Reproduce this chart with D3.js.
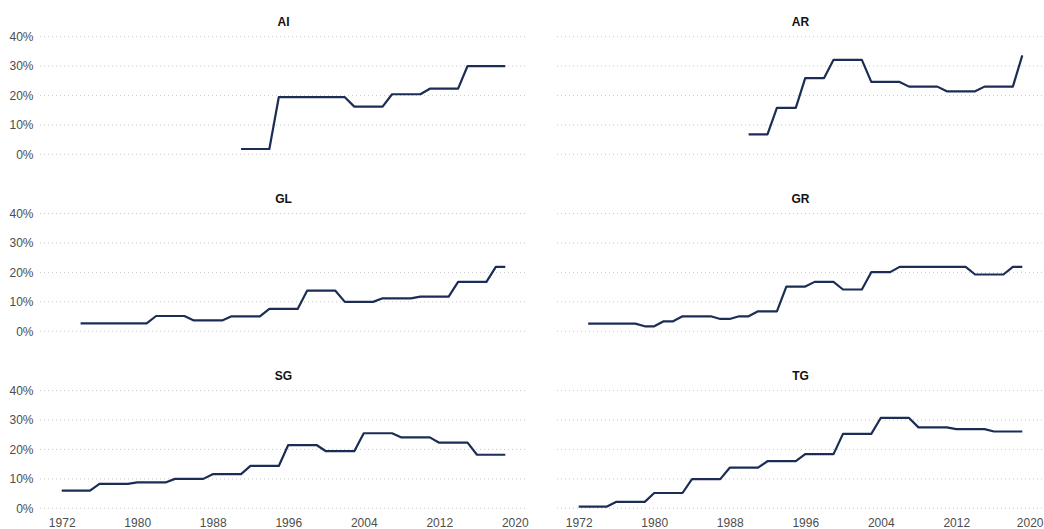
<!DOCTYPE html>
<html>
<head>
<meta charset="utf-8">
<script src="https://cdn.jsdelivr.net/npm/d3@7"></script>
<style>
  body { margin: 0; background: #fff; }
  svg { display: block; font-family: "Liberation Sans", Arial, sans-serif; }
</style>
</head>
<body>
<div id="chart"></div>
<script>
// Share of women per canton (%), one value per year from the start year
const cantons = ["AI", "AR", "GL", "GR", "SG", "TG"];
const startYears = [1991, 1990, 1974, 1973, 1972, 1972];

const aiShare = [1.8, 1.8, 1.8, 1.8,
  19.4, 19.4, 19.4, 19.4, 19.4, 19.4, 19.4, 19.4,
  16.2, 16.2, 16.2, 16.2, 20.4, 20.4, 20.4, 20.4,
  22.3, 22.3, 22.3, 22.3, 30.0, 30.0, 30.0, 30.0, 30.0];
const arShare = [6.8, 6.8, 6.8, 15.8, 15.8, 15.8, 25.9, 25.9, 25.9,
  32.1, 32.1, 32.1, 32.1, 24.6, 24.6, 24.6, 24.6,
  23.0, 23.0, 23.0, 23.0, 21.4, 21.4, 21.4, 21.4,
  23.0, 23.0, 23.0, 23.0, 33.6];
const glShare = [2.7, 2.7, 2.7, 2.7, 2.7, 2.7, 2.7, 2.7,
  5.2, 5.2, 5.2, 5.2, 3.7, 3.7, 3.7, 3.7, 5.1, 5.1, 5.1, 5.1,
  7.6, 7.6, 7.6, 7.6, 13.8, 13.8, 13.8, 13.8, 10.0, 10.0, 10.0, 10.0,
  11.2, 11.2, 11.2, 11.2, 11.8, 11.8, 11.8, 11.8,
  16.8, 16.8, 16.8, 16.8, 21.9, 21.9];
const grShare = [2.6, 2.6, 2.6, 2.6, 2.6, 2.6, 1.7, 1.7, 3.4, 3.4,
  5.1, 5.1, 5.1, 5.1, 4.2, 4.2, 5.1, 5.1, 6.8, 6.8, 6.8,
  15.2, 15.2, 15.2, 16.8, 16.8, 16.8, 14.2, 14.2, 14.2,
  20.1, 20.1, 20.1, 21.9, 21.9, 21.9, 21.9, 21.9, 21.9, 21.9, 21.9,
  19.3, 19.3, 19.3, 19.3, 21.9, 21.9];
const sgShare = [6.0, 6.0, 6.0, 6.0, 8.3, 8.3, 8.3, 8.3,
  8.8, 8.8, 8.8, 8.8, 10.0, 10.0, 10.0, 10.0, 11.6, 11.6, 11.6, 11.6,
  14.4, 14.4, 14.4, 14.4, 21.5, 21.5, 21.5, 21.5, 19.4, 19.4, 19.4, 19.4,
  25.5, 25.5, 25.5, 25.5, 24.1, 24.1, 24.1, 24.1,
  22.3, 22.3, 22.3, 22.3, 18.2, 18.2, 18.2, 18.2];
const tgShare = [0.6, 0.6, 0.6, 0.6, 2.2, 2.2, 2.2, 2.2,
  5.2, 5.2, 5.2, 5.2, 9.9, 9.9, 9.9, 9.9, 13.8, 13.8, 13.8, 13.8,
  16.0, 16.0, 16.0, 16.0, 18.4, 18.4, 18.4, 18.4, 25.3, 25.3, 25.3, 25.3,
  30.7, 30.7, 30.7, 30.7, 27.5, 27.5, 27.5, 27.5,
  26.9, 26.9, 26.9, 26.9, 26.1, 26.1, 26.1, 26.1];
const shares = [aiShare, arShare, glShare, grShare, sgShare, tgShare];

const yTicks = [0, 10, 20, 30, 40];
const xTicks = [1972, 1980, 1988, 1996, 2004, 2012, 2020];

// Layout
const width = 1044, height = 529;
const colLeft = [40, 557];
const rowTop = [36.6, 213.6, 390.6];
const panelW = 487, panelH = 117.7;

const svg = d3.select("#chart").append("svg")
  .attr("width", width)
  .attr("height", height);

const x = d3.scaleLinear().domain([1969.7, 2021.3]).range([0, panelW]);
const y = d3.scaleLinear().domain([0, 40]).range([panelH, 0]);

const line = d3.line()
  .x(d => x(d.year))
  .y(d => y(d.value));

cantons.forEach((name, i) => {
  const col = i % 2, row = Math.floor(i / 2);
  const g = svg.append("g")
    .attr("transform", `translate(${colLeft[col]},${rowTop[row]})`);

  // dotted horizontal grid
  g.selectAll(".grid")
    .data(yTicks)
    .enter().append("line")
    .attr("class", "grid")
    .attr("x1", 0)
    .attr("x2", panelW)
    .attr("y1", d => y(d))
    .attr("y2", d => y(d))
    .attr("stroke", "#c8c8c8")
    .attr("stroke-width", 1)
    .attr("stroke-dasharray", "1,3");

  // panel title
  g.append("text")
    .attr("x", panelW / 2)
    .attr("y", -11)
    .attr("text-anchor", "middle")
    .style("font-size", "12px")
    .style("font-weight", "bold")
    .attr("fill", "#111")
    .text(name);

  // y axis only on the left column
  if (col === 0) {
    const yAxis = g.append("g")
      .call(d3.axisLeft(y).tickValues(yTicks).tickFormat(d => d + "%").tickSize(0).tickPadding(6.5));
    yAxis.select(".domain").remove();
    yAxis.selectAll("text")
      .style("font-size", "12px")
      .style("font-family", "Liberation Sans, Arial, sans-serif")
      .attr("fill", "#4d4d4d");
  }

  // x axis only on the bottom row
  if (row === 2) {
    const xAxis = g.append("g")
      .attr("transform", `translate(0,${panelH})`)
      .call(d3.axisBottom(x).tickValues(xTicks).tickFormat(d3.format("d")).tickSize(0).tickPadding(10));
    xAxis.select(".domain").remove();
    xAxis.selectAll("text")
      .style("font-size", "12px")
      .style("font-family", "Liberation Sans, Arial, sans-serif")
      .attr("fill", "#4d4d4d");
    // keep the last label of the right column inside the picture
    if (col === 1) {
      xAxis.selectAll("text")
        .filter(d => d === 2020)
        .attr("text-anchor", "end")
        .attr("x", width - colLeft[col] - x(2020) - 1);
    }
  }

  const data = shares[i].map((v, k) => ({ year: startYears[i] + k, value: v }));

  g.append("path")
    .datum(data)
    .attr("fill", "none")
    .attr("stroke", "#1b2d55")
    .attr("stroke-width", 2.2)
    .attr("stroke-linejoin", "round")
    .attr("d", line);
});
</script>
</body>
</html>
